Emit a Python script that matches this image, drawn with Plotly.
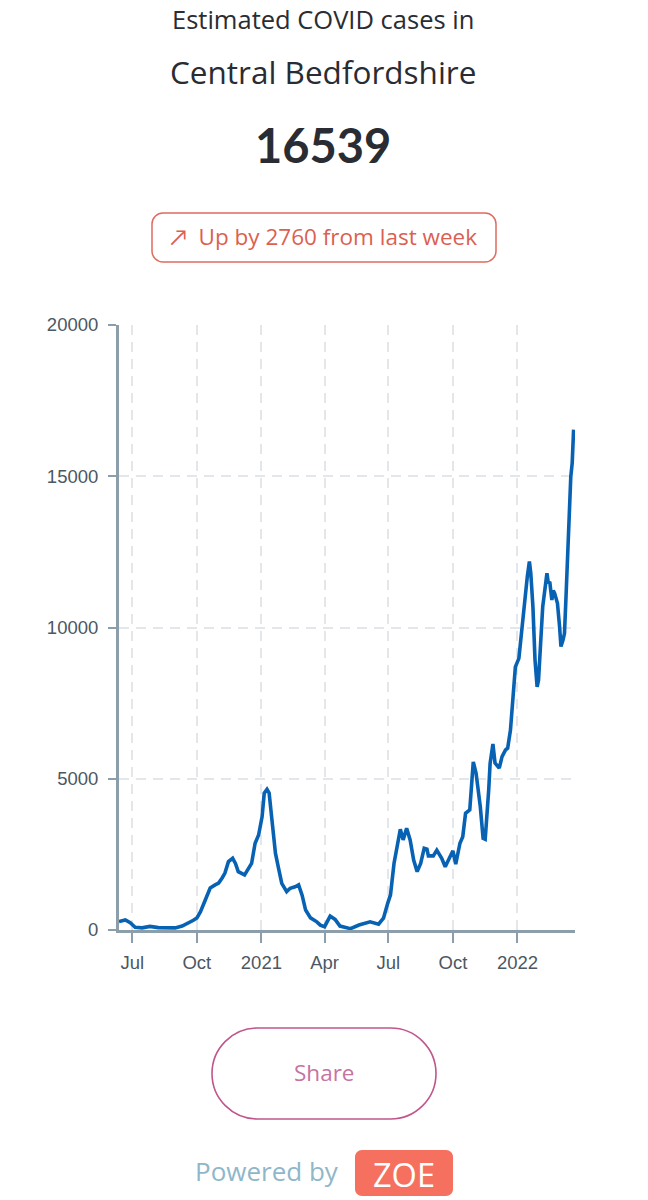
import plotly.graph_objects as go

# ---------------- data ----------------
dates = [
    "2020-06-12", "2020-06-21", "2020-06-28", "2020-07-05", "2020-07-15", "2020-07-26",
    "2020-08-07", "2020-08-21", "2020-08-31", "2020-09-10", "2020-09-19", "2020-09-26",
    "2020-10-01", "2020-10-06", "2020-10-13", "2020-10-20", "2020-10-27", "2020-11-01",
    "2020-11-06", "2020-11-10", "2020-11-15", "2020-11-21", "2020-11-25", "2020-11-29",
    "2020-12-08", "2020-12-14", "2020-12-18", "2020-12-23", "2020-12-28", "2021-01-02",
    "2021-01-05", "2021-01-09", "2021-01-12", "2021-01-16", "2021-01-21", "2021-01-25",
    "2021-01-30", "2021-02-06", "2021-02-11", "2021-02-18", "2021-02-23", "2021-02-28",
    "2021-03-05", "2021-03-12", "2021-03-21", "2021-03-26", "2021-04-01", "2021-04-09",
    "2021-04-16", "2021-04-23", "2021-05-08", "2021-05-20", "2021-05-27", "2021-06-05",
    "2021-06-17", "2021-06-24", "2021-06-30", "2021-07-04", "2021-07-09", "2021-07-13",
    "2021-07-18", "2021-07-22", "2021-07-27", "2021-08-01", "2021-08-06", "2021-08-11",
    "2021-08-16", "2021-08-21", "2021-08-25", "2021-08-27", "2021-09-03", "2021-09-08",
    "2021-09-15", "2021-09-20", "2021-09-26", "2021-10-01", "2021-10-05", "2021-10-11",
    "2021-10-15", "2021-10-19", "2021-10-25", "2021-10-27", "2021-10-30", "2021-11-03",
    "2021-11-09", "2021-11-13", "2021-11-16", "2021-11-21", "2021-11-23", "2021-11-27",
    "2021-11-30", "2021-12-06", "2021-12-10", "2021-12-15", "2021-12-18", "2021-12-22",
    "2021-12-26", "2021-12-29", "2022-01-03", "2022-01-05", "2022-01-10", "2022-01-15",
    "2022-01-18", "2022-01-20", "2022-01-23", "2022-01-26", "2022-01-29", "2022-01-31",
    "2022-02-03", "2022-02-06", "2022-02-09", "2022-02-12", "2022-02-14", "2022-02-16",
    "2022-02-19", "2022-02-21", "2022-02-23", "2022-02-27", "2022-03-02", "2022-03-04",
    "2022-03-07", "2022-03-09", "2022-03-11", "2022-03-14", "2022-03-16", "2022-03-18",
    "2022-03-20", "2022-03-22",
]
cases = [
    280, 330, 240, 90, 70, 120,
    80, 60, 70, 130, 220, 320,
    400, 600, 990, 1390, 1490, 1550,
    1720, 1880, 2260, 2370, 2200, 1930,
    1820, 2040, 2200, 2870, 3140, 3750,
    4520, 4650, 4530, 3640, 2540, 2090,
    1540, 1270, 1380, 1430, 1490, 1150,
    660, 400, 270, 160, 110, 460,
    350, 130, 45, 165, 200, 270,
    190, 390, 880, 1160, 2200, 2750,
    3330, 2980, 3360, 2980, 2310, 1930,
    2200, 2700, 2670, 2450, 2450, 2640,
    2370, 2090, 2420, 2620, 2180, 2870,
    3080, 3860, 3970, 4630, 5560, 5180,
    4080, 3030, 3000, 4630, 5510, 6150,
    5520, 5350, 5730, 5950, 6010, 6610,
    7930, 8700, 8980, 9480, 10690, 11680,
    12180, 11790, 10690, 8930, 8040, 8260,
    9480, 10690, 11240, 11790, 11460, 11510,
    10910, 11220, 11130, 10800, 10030, 9370,
    9590, 9810, 10910, 12890, 14320, 14990,
    15430, 16539,
]
x_range = ["2020-06-12", "2022-03-24"]
x_tick_vals = ["2020-07-01", "2020-10-01", "2021-01-01", "2021-04-01",
               "2021-07-01", "2021-10-01", "2022-01-01"]
x_tick_text = ["Jul", "Oct", "2021", "Apr", "Jul", "Oct", "2022"]
y_tick_vals = [0, 5000, 10000, 15000, 20000]
y_tick_text = ["0", "5000", "10000", "15000", "20000"]

region = "Central Bedfordshire"
headline = "Estimated COVID cases in"
total = "16539"
change_text = "↗  Up by 2760 from last week"

# ---------------- layout helpers (pixels -> paper) ----------------
W, H = 648, 1200
L, R, T, B = 119, 575, 325, 930


def px(x):
    return (x - L) / (R - L)


def py(y):
    return (B - y) / (B - T)


def rounded(x0, y0, x1, y1, r):
    k = 0.5523 * r

    def p(x, y):
        return f"{px(x):.5f},{py(y):.5f}"

    return (
        f"M {p(x0 + r, y0)} L {p(x1 - r, y0)} "
        f"C {p(x1 - r + k, y0)} {p(x1, y0 + r - k)} {p(x1, y0 + r)} "
        f"L {p(x1, y1 - r)} "
        f"C {p(x1, y1 - r + k)} {p(x1 - r + k, y1)} {p(x1 - r, y1)} "
        f"L {p(x0 + r, y1)} "
        f"C {p(x0 + r - k, y1)} {p(x0, y1 - r + k)} {p(x0, y1 - r)} "
        f"L {p(x0, y0 + r)} "
        f"C {p(x0, y0 + r - k)} {p(x0 + r - k, y0)} {p(x0 + r, y0)} Z"
    )


AXIS = "#8d9eab"
GRID = "#e3e6ea"
TICKFONT = dict(family="Liberation Sans, Arial, sans-serif", size=18.5, color="#4b5863")
HEAD = "'Open Sans', Lato, sans-serif"
NUM = "Lato, 'Open Sans', sans-serif"

fig = go.Figure()
fig.add_trace(go.Scatter(
    x=dates, y=cases, mode="lines",
    line=dict(color="#0862b3", width=3.6),
    hoverinfo="skip", showlegend=False,
))

annotations = [
    dict(text=headline, x=px(323), y=py(19), font=dict(family=HEAD, size=25.5, color="#2a2c33")),
    dict(text=region, x=px(323), y=py(71), font=dict(family=HEAD, size=31.5, color="#2a2c33")),
    dict(text=f"<b>{total}</b>", x=px(323), y=py(145), font=dict(family=NUM, size=47, color="#2a2c33")),
    dict(text=change_text, x=px(323), y=py(237), font=dict(family=HEAD, size=22.5, color="#dc5f52")),
    dict(text="Share", x=px(324), y=py(1072), font=dict(family=HEAD, size=22.5, color="#c773a2")),
    dict(text="Powered by", x=px(267), y=py(1171), font=dict(family=HEAD, size=26, color="#8fb7c9")),
    dict(text="ZOE", x=px(404), y=py(1174), font=dict(family=HEAD, size=32.5, color="#ffffff")),
]
for a in annotations:
    a.update(xref="paper", yref="paper", showarrow=False, xanchor="center", yanchor="middle")

shapes = [
    dict(type="path", path=rounded(152, 213, 496, 262, 11),
         line=dict(color="#df6b5f", width=1.5), fillcolor="rgba(0,0,0,0)"),
    dict(type="path", path=rounded(212, 1028, 436, 1119, 45.5),
         line=dict(color="#c0578c", width=1.6), fillcolor="rgba(0,0,0,0)"),
    dict(type="path", path=rounded(355, 1150, 453, 1196, 7),
         line=dict(width=0), fillcolor="#f6705f"),
]
for s in shapes:
    s.update(xref="paper", yref="paper", layer="below")

fig.update_layout(
    width=W, height=H,
    margin=dict(l=L, r=W - R, t=T, b=H - B, pad=0),
    paper_bgcolor="white", plot_bgcolor="white",
    showlegend=False,
    annotations=annotations,
    shapes=shapes,
    xaxis=dict(
        type="date", range=x_range,
        tickvals=x_tick_vals, ticktext=x_tick_text,
        showgrid=True, gridcolor=GRID, gridwidth=1.5, griddash="10px,7px",
        showline=True, linecolor=AXIS, linewidth=3,
        ticks="outside", ticklen=10, tickwidth=2, tickcolor=AXIS,
        tickfont=TICKFONT, ticklabelstandoff=4,
        zeroline=False, fixedrange=True,
    ),
    yaxis=dict(
        range=[0, 20000],
        tickvals=y_tick_vals, ticktext=y_tick_text,
        showgrid=True, gridcolor=GRID, gridwidth=1.5, griddash="10px,7px",
        showline=True, linecolor=AXIS, linewidth=3,
        ticks="outside", ticklen=8, tickwidth=2, tickcolor=AXIS,
        tickfont=TICKFONT, ticklabelstandoff=6,
        zeroline=False, fixedrange=True,
    ),
)

fig.write_html("out.html", config={"displayModeBar": False})
